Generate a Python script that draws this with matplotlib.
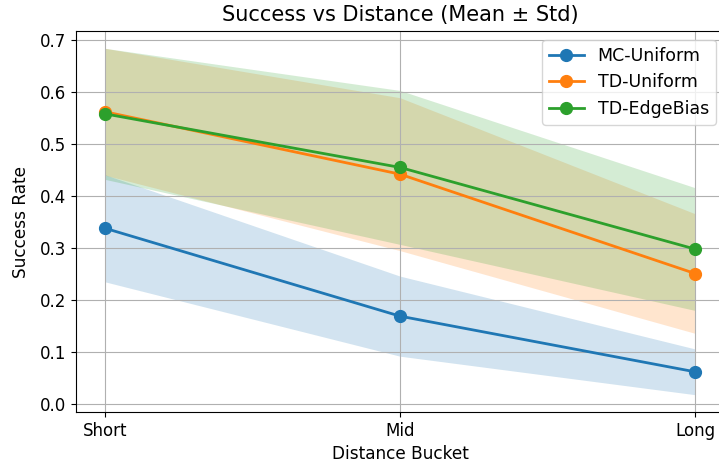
import matplotlib
matplotlib.use("Agg")
import matplotlib.pyplot as plt
import numpy as np

buckets = ["Short", "Mid", "Long"]
series = ["MC-Uniform", "TD-Uniform", "TD-EdgeBias"]
mc_mean = [0.338, 0.169, 0.062]
mc_std = [0.103, 0.077, 0.044]
tdu_mean = [0.562, 0.442, 0.251]
tdu_std = [0.122, 0.147, 0.115]
tde_mean = [0.558, 0.455, 0.298]
tde_std = [0.126, 0.148, 0.118]

means = [mc_mean, tdu_mean, tde_mean]
stds = [mc_std, tdu_std, tde_std]
colors = ["#1f77b4", "#ff7f0e", "#2ca02c"]

fig = plt.figure(figsize=(7.19, 4.67), dpi=100)
ax = fig.add_axes([75.5/719, 55/467, 649/719, 381/467])
x = np.arange(len(buckets))
for name, m, s, c in zip(series, means, stds, colors):
    m = np.array(m); s = np.array(s)
    ax.plot(x, m, marker="o", color=c, label=name, linewidth=2, markersize=8.5)
    ax.fill_between(x, m - s, m + s, color=c, alpha=0.2, linewidth=0)
ax.set_xticks(x)
ax.set_xticklabels(buckets, fontsize=12)
ax.tick_params(axis="both", labelsize=12)
ax.set_xlabel("Distance Bucket", fontsize=12.2)
ax.set_ylabel("Success Rate", fontsize=12.2, labelpad=7)
ax.set_title("Success vs Distance (Mean ± Std)", fontsize=15, pad=7)
ax.grid(True)
ax.legend(loc="upper right", fontsize=12.5)
fig.savefig("out.png", dpi=100)
